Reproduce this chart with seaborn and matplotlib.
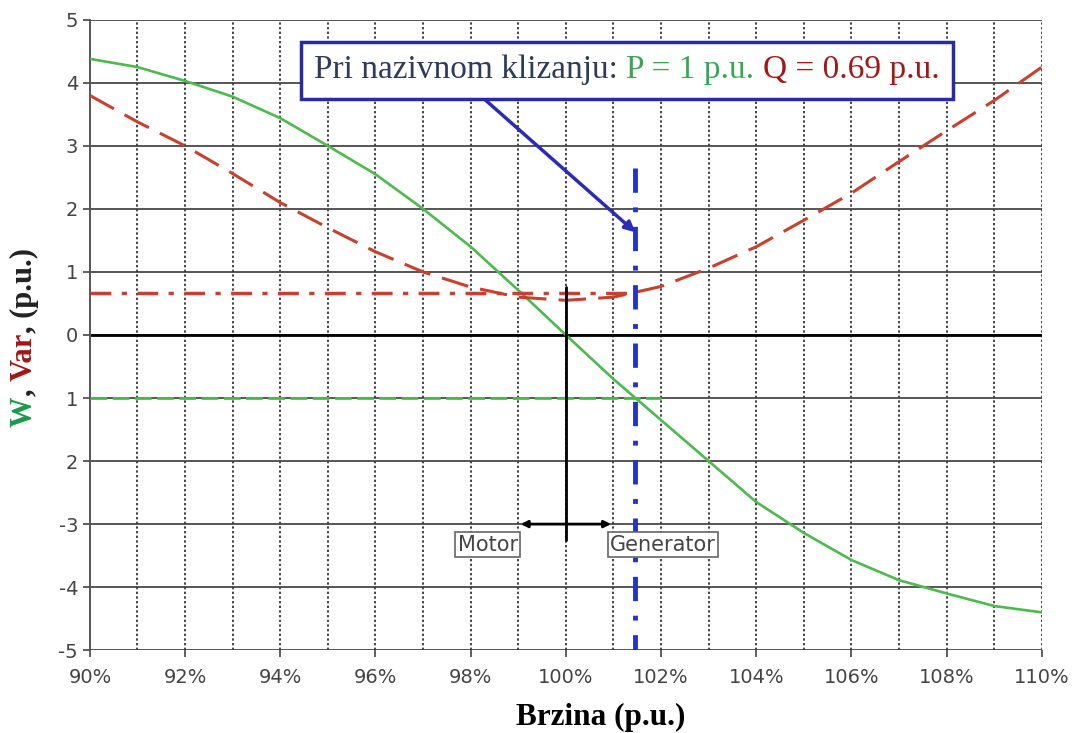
import numpy as np
import pandas as pd
import seaborn as sns
import matplotlib.pyplot as plt
from matplotlib.offsetbox import TextArea, HPacker, AnnotationBbox

# speed in percent and the two power curves
speed = [90, 91, 92, 93, 94, 95, 96, 97, 98, 99, 100,
         101, 102, 103, 104, 105, 106, 107, 108, 109, 110]
p_active = [4.38, 4.25, 4.03, 3.78, 3.44, 3.0, 2.55, 2.0, 1.4, 0.71, 0.0,
            -0.7, -1.35, -2.0, -2.65, -3.14, -3.57, -3.89, -4.1, -4.3, -4.4]
q_reactive = [3.8, 3.38, 3.0, 2.56, 2.1, 1.7, 1.32, 1.0, 0.76, 0.6, 0.55,
              0.6, 0.77, 1.06, 1.4, 1.82, 2.25, 2.75, 3.24, 3.72, 4.25]

rated_speed = 101.46
rated_p = -1.0
rated_q = 0.66

y_ticks = [5, 4, 3, 2, 1, 0, -1, -2, -3, -4, -5]
y_tick_labels = ['5', '4', '3', '2', '1', '0', '1', '2', '-3', '-4', '-5']
x_ticks = [90, 92, 94, 96, 98, 100, 102, 104, 106, 108, 110]

green = '#4cba4c'
red = '#c8402e'
blue = '#2233c8'
serif = 'Liberation Serif'

df = pd.DataFrame({'speed': speed, 'P': p_active, 'Q': q_reactive})

sns.set_style('white')
fig = plt.figure(figsize=(10.83, 7.33), dpi=100)
ax = fig.add_axes([0.083, 0.113, 0.879, 0.86])

# grid
for v in y_ticks:
    ax.axhline(v, color='#555555', lw=1.4, zorder=1)
ax.axhline(0, color='black', lw=2, zorder=1.5)
for x in range(91, 111):
    ax.axvline(x, color='#444444', lw=1.4, ls=(0, (1.2, 1.2)), zorder=1)

# curves
sns.lineplot(data=df, x='speed', y='P', color=green, lw=1.9, ax=ax, zorder=3)
sns.lineplot(data=df, x='speed', y='Q', color=red, lw=2.2, ax=ax, zorder=3)
ax.lines[-1].set_dashes([9, 4])

# rated operating point lines
ax.plot([90, rated_speed], [rated_q, rated_q], color=red, lw=2.5,
        dashes=[6, 3, 1.5, 3], zorder=3)
ax.plot([90, 102], [rated_p, rated_p], color=green, lw=2, dashes=[6, 2], zorder=3)
ax.plot([rated_speed, rated_speed], [2.65, -5], color=blue, lw=3.5,
        dashes=[5, 3, 1, 3], zorder=4)

# motor / generator marker
ax.plot([100, 100], [0.76, -3.25], color='black', lw=2, zorder=4)
ax.annotate('', xy=(100.95, -3.0), xytext=(99.05, -3.0),
            arrowprops=dict(arrowstyle='<|-|>', color='black', lw=2,
                            mutation_scale=10, shrinkA=0, shrinkB=0), zorder=4)
box = dict(boxstyle='square,pad=0.12', facecolor='white', edgecolor='#666666', lw=1.2)
ax.text(98.36, -3.33, 'Motor', ha='center', va='center', fontsize=15,
        color='#444444', bbox=box, zorder=5)
ax.text(102.04, -3.33, 'Generator', ha='center', va='center', fontsize=15,
        color='#444444', bbox=box, zorder=5)

# info box with arrow
parts = [TextArea('Pri nazivnom klizanju: ', textprops=dict(color='#2f3b5c', fontsize=24, family=serif)),
         TextArea('P = 1 p.u. ', textprops=dict(color='#3aa655', fontsize=24, family=serif)),
         TextArea('Q = 0.69 p.u.', textprops=dict(color='#a01818', fontsize=24, family=serif))]
pack = HPacker(children=parts, pad=0, sep=0, align='baseline')
ab = AnnotationBbox(pack, (101.28, 4.2), frameon=True, pad=0.95,
                    bboxprops=dict(edgecolor='#2a2aa8', lw=2.5, facecolor='white'),
                    zorder=6)
ax.add_artist(ab)
ax.annotate('', xy=(rated_speed, 1.63), xytext=(98.23, 3.78),
            arrowprops=dict(arrowstyle='-|>', color='#2b2bb5', lw=2.5,
                            mutation_scale=15, shrinkA=0, shrinkB=0), zorder=5)

# axes
ax.set_xlim(90, 110)
ax.set_ylim(-5, 5)
ax.set_xticks(x_ticks)
ax.set_xticklabels([f'{x}%' for x in x_ticks])
ax.set_yticks(y_ticks)
ax.set_yticklabels(y_tick_labels)
ax.tick_params(axis='both', labelsize=14, colors='#444444', length=5, width=1.2,
               direction='out', left=True, bottom=True)
ax.tick_params(axis='x', pad=8)
for s in ['top', 'right', 'bottom']:
    ax.spines[s].set_visible(False)
ax.spines['left'].set_color('#555555')
ax.spines['left'].set_linewidth(1.4)
ax.set_xlabel('')
ax.set_ylabel('')

fig.text(601 / 1083, 1 - 717 / 733, 'Brzina (p.u.)', ha='center', va='center',
         fontsize=22.5, fontweight='bold', family=serif, color='black')

# coloured y label, built piece by piece
fig.canvas.draw()
renderer = fig.canvas.get_renderer()
ypos = (733 - 427) / 733
for txt, col in [('W', '#1a9a4a'), (', ', '#222222'), ('Var', '#a31515'), (', (p.u.)', '#222222')]:
    t = fig.text(24 / 1083, ypos, txt, rotation=90, ha='center', va='bottom',
                 fontsize=22, fontweight='bold', family=serif, color=col)
    bb = t.get_window_extent(renderer)
    ypos += bb.height / fig.bbox.height

fig.savefig('out.png', dpi=100)
